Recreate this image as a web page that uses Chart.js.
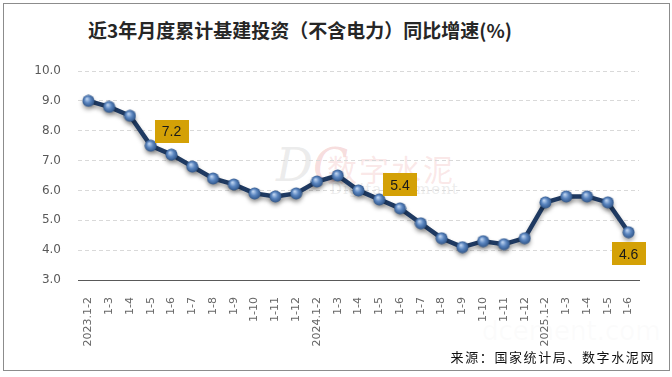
<!DOCTYPE html>
<html lang="zh">
<head>
<meta charset="UTF-8">
<title>近3年月度累计基建投资（不含电力）同比增速</title>
<script src="https://cdn.jsdelivr.net/npm/chart.js@4"></script>
<style>
  html, body { margin: 0; padding: 0; background: #fff; }
  #wrap { position: relative; width: 672px; height: 377px; overflow: hidden; font-family: "Noto Sans CJK SC", sans-serif; }
  #frame { position: absolute; left: 3px; top: 3px; width: 665px; height: 366px; border: 1px solid #8c8c8c; }
  #title { position: absolute; left: 88px; top: 17px; font-size: 19px; line-height: 26px; font-weight: bold; color: #262626; white-space: nowrap; }
  #source { position: absolute; right: 17px; top: 348px; font-size: 13px; line-height: 18px; letter-spacing: 1.6px; color: #111; white-space: nowrap; }
  .wm { position: absolute; white-space: nowrap; pointer-events: none; }
  canvas { position: absolute; left: 0; top: 0; }
</style>
</head>
<body>
<div id="wrap">
  <!-- filigrane en arrière-plan -->
  <div class="wm" style="left:276px; top:138px; font-family:'DejaVu Serif', serif; font-style:italic; font-size:46px; color:rgba(200,200,200,0.35);">D<span style="color:rgba(230,140,140,0.3)">C</span></div>
  <div class="wm" style="left:327px; top:146px; font-family:'Noto Sans CJK SC'; font-size:30px; color:rgba(235,150,150,0.22); letter-spacing:2px;">数字水泥</div>
  <div class="wm" style="left:330px; top:180px; font-family:'DejaVu Serif', serif; font-size:15px; color:rgba(200,200,200,0.35); letter-spacing:1px;">Digital Cement</div>
  <div class="wm" style="left:482px; top:316px; font-family:'DejaVu Sans'; font-size:26px; color:rgba(225,225,225,0.12);">dcement.com</div>
  <div id="frame"></div>
  <div id="title">近3年月度累计基建投资（不含电力）同比增速(%)</div>
  <canvas id="chart" width="672" height="377"></canvas>
  <div id="source">来源：国家统计局、数字水泥网</div>
</div>

<script>
// données
const categories = [
  '2023.1-2', '1-3', '1-4', '1-5', '1-6', '1-7', '1-8', '1-9', '1-10', '1-11', '1-12',
  '2024.1-2', '1-3', '1-4', '1-5', '1-6', '1-7', '1-8', '1-9', '1-10', '1-11', '1-12',
  '2025.1-2', '1-3', '1-4', '1-5', '1-6'
];
const growth = [
  9.0, 8.8, 8.5, 7.5, 7.2, 6.8, 6.4, 6.2, 5.9, 5.8, 5.9,
  6.3, 6.5, 6.0, 5.7, 5.4, 4.9, 4.4, 4.1, 4.3, 4.2, 4.4,
  5.6, 5.8, 5.8, 5.6, 4.6
];
const yTicks = [3, 4, 5, 6, 7, 8, 9, 10];
// étiquettes affichées : index -> position
const labelled = [4, 15, 26];
const labelSide = ['above', 'above', 'below'];

// marqueur "bille" bleue
function makeMarker() {
  const c = document.createElement('canvas');
  c.width = 13; c.height = 13;
  const g = c.getContext('2d');
  const grad = g.createRadialGradient(5, 4.5, 0.5, 6.5, 6.5, 6.5);
  grad.addColorStop(0, '#b9d0ee');
  grad.addColorStop(0.45, '#5b86c0');
  grad.addColorStop(1, '#2a4f82');
  g.fillStyle = grad;
  g.beginPath();
  g.arc(6.5, 6.5, 6, 0, Math.PI * 2);
  g.fill();
  return c;
}

const shadowPlugin = {
  id: 'lineShadow',
  beforeDatasetDraw(chart) {
    const ctx = chart.ctx;
    ctx.save();
    ctx.shadowColor = 'rgba(0,0,0,0.35)';
    ctx.shadowBlur = 4;
    ctx.shadowOffsetY = 3;
  },
  afterDatasetDraw(chart) {
    chart.ctx.restore();
  }
};

const labelPlugin = {
  id: 'boxLabels',
  afterDatasetsDraw(chart) {
    const ctx = chart.ctx;
    const meta = chart.getDatasetMeta(0);
    const w = 34, h = 23;
    ctx.save();
    ctx.font = '14px "Liberation Sans", sans-serif';
    ctx.textAlign = 'center';
    ctx.textBaseline = 'middle';
    labelled.forEach((idx, k) => {
      const pt = meta.data[idx];
      const top = labelSide[k] === 'above' ? pt.y - 12 - h : pt.y + 10;
      ctx.fillStyle = '#d4a106';
      ctx.fillRect(Math.round(pt.x - w / 2), Math.round(top), w, h);
      ctx.fillStyle = '#1a1a1a';
      ctx.fillText(growth[idx].toFixed(1), pt.x, top + h / 2 + 1);
    });
    ctx.restore();
  }
};

const ctx = document.getElementById('chart').getContext('2d');
new Chart(ctx, {
  type: 'line',
  data: {
    labels: categories,
    datasets: [{
      data: growth,
      borderColor: '#1f3a62',
      borderWidth: 4.5,
      tension: 0,
      pointStyle: makeMarker(),
      pointRadius: 6,
      pointHoverRadius: 6
    }]
  },
  options: {
    responsive: false,
    animation: false,
    events: [],
    layout: { padding: { left: 0, top: 71, right: 33, bottom: 0 } },
    plugins: {
      legend: { display: false },
      tooltip: { enabled: false }
    },
    scales: {
      x: {
        offset: true,
        grid: { display: false },
        border: { display: true, color: '#595959', width: 1 },
        ticks: {
          autoSkip: false,
          minRotation: 90,
          maxRotation: 90,
          padding: 9,
          color: '#666666',
          font: { family: 'DejaVu Sans', size: 11 }
        },
        afterFit(scale) { scale.height = 97; }
      },
      y: {
        min: 3,
        max: 10,
        afterBuildTicks(scale) { scale.ticks = yTicks.map(v => ({ value: v })); },
        grid: { color: '#d9d9d9', drawTicks: false, lineWidth: 1 },
        border: { display: false, dash: [4, 3] },
        ticks: {
          padding: 17,
          color: '#595959',
          font: { family: 'DejaVu Sans', size: 12 },
          callback: v => Number(v).toFixed(1)
        },
        afterFit(scale) { scale.width = 78; }
      }
    }
  },
  plugins: [shadowPlugin, labelPlugin]
});
</script>
</body>
</html>
